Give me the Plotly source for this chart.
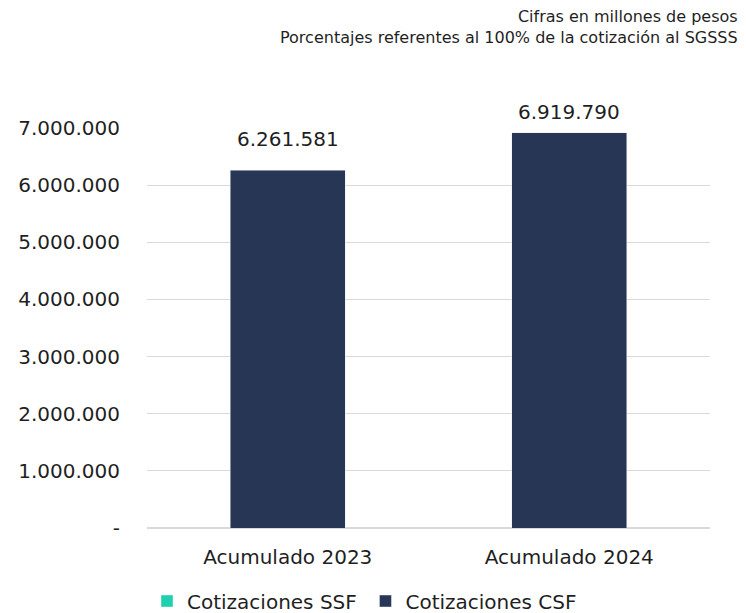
import plotly.graph_objects as go

categories = ["Acumulado 2023", "Acumulado 2024"]
ssf_values = [0, 0]
csf_values = [6261581, 6919790]
tick_vals = [0, 1000000, 2000000, 3000000, 4000000, 5000000, 6000000, 7000000]
tick_text = ["-", "1.000.000", "2.000.000", "3.000.000", "4.000.000", "5.000.000", "6.000.000", "7.000.000"]
note_text = "Cifras en millones de pesos<br>Porcentajes referentes al 100% de la cotización al SGSSS"

font_family = "DejaVu Sans, Verdana, sans-serif"
text_color = "#1f1f1f"

fig = go.Figure()
fig.add_trace(go.Bar(
    x=categories, y=ssf_values, name="Cotizaciones SSF",
    marker=dict(color="#1fcfad"), hoverinfo="skip", legend="legend",
))
fig.add_trace(go.Bar(
    x=categories, y=csf_values, name="Cotizaciones CSF",
    marker=dict(color="#283655"), legend="legend2",
))

annotations = [dict(
    text=note_text, xref="paper", yref="paper", x=1.0535, y=1.252,
    xanchor="right", yanchor="middle", align="right", showarrow=False,
    font=dict(size=16, color=text_color),
)]
label_shifts = [31, 21]
for c, v, s in zip(categories, csf_values, label_shifts):
    annotations.append(dict(
        x=c, y=v, xref="x", yref="y", text=f"{v:,}".replace(",", "."),
        showarrow=False, yanchor="middle", yshift=s,
        font=dict(size=20, color=text_color),
    ))

legend_style = dict(orientation="h", xanchor="left", yref="container", y=0.0326,
                    yanchor="middle", font=dict(size=20, color=text_color), itemwidth=30,
                    bgcolor="rgba(0,0,0,0)")

fig.update_layout(
    width=746, height=613,
    barmode="stack", bargap=0.5915,
    separators=",.",
    plot_bgcolor="white", paper_bgcolor="white",
    margin=dict(l=138.7, r=44.3, t=120, b=93),
    font=dict(family=font_family, size=20, color=text_color),
    showlegend=True,
    legend=dict(x=0.0, **legend_style),
    legend2=dict(x=0.388, **legend_style),
    annotations=annotations,
)
fig.update_xaxes(showline=False, showgrid=False, tickfont=dict(size=20), ticks="",
                 automargin=False, ticklabelstandoff=15)
fig.update_yaxes(range=[0, 7000000], tickvals=tick_vals, ticktext=tick_text,
                 showgrid=True, gridcolor="#d9d9d9", gridwidth=1,
                 zeroline=True, zerolinecolor="#d9d9d9", zerolinewidth=1.5,
                 tickfont=dict(size=20), ticklabelstandoff=26, automargin=False)

fig.write_html("out.html")
